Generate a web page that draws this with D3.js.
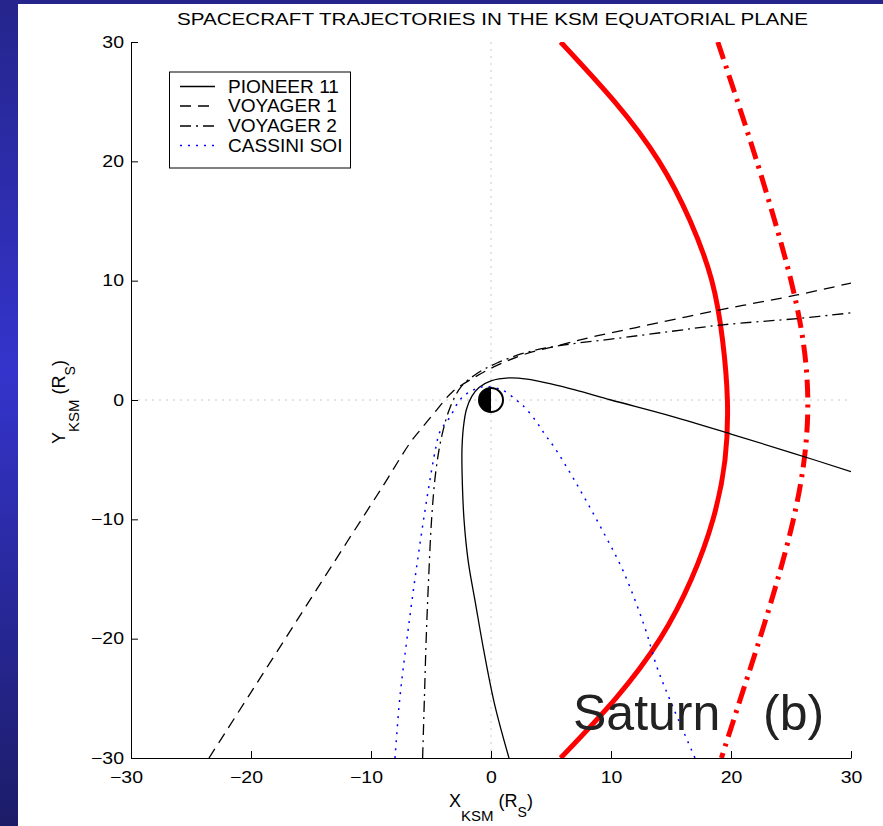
<!DOCTYPE html>
<html>
<head>
<meta charset="utf-8">
<script src="https://cdn.jsdelivr.net/npm/d3@7"></script>
<style>
  html, body { margin: 0; padding: 0; background: #fff; }
  svg { display: block; }
</style>
</head>
<body>
<svg id="chart" width="883" height="826"></svg>
<script>
// ticks
const xTicks = [-30, -20, -10, 0, 10, 20, 30]
const yTicks = [-30, -20, -10, 0, 10, 20, 30]

// spacecraft tracks, [X, Y] in R_S
const pioneer11 = [[30,-6.0],[25,-4.4],[20,-2.85],[15,-1.35],[10,0.0],[7,0.85],[5,1.35],[3,1.75],[1.5,1.85],[0,1.6],[-1,1.05],[-1.6,0.3],[-2.05,-0.8],[-2.3,-2.3],[-2.42,-4.2],[-2.4,-6.5],[-2.25,-10],[-1.9,-13.5],[-1.3,-17],[-0.6,-21],[0.3,-25.5],[1.5,-30]]
const voyager1 = [[-23.5,-30],[-20,-24.5],[-16,-18.2],[-12,-11.9],[-9,-7.2],[-6.75,-3.6],[-5.8,-2.4],[-4.5,-0.8],[-3.2,0.7],[-1.3,1.95],[0.5,2.9],[2.7,3.8],[5.75,4.6],[8.5,5.3],[12,6.05],[18.8,7.5],[25.5,8.8],[30,9.8]]
const voyager2 = [[-5.7,-30],[-5.55,-25],[-5.4,-20],[-5.2,-15],[-4.95,-10],[-4.6,-6],[-4.1,-3],[-3.4,-0.6],[-2.5,1.1],[-1.2,2.2],[0.5,3.1],[3,4.0],[6,4.6],[10,5.1],[15,5.75],[19.3,6.3],[25.8,6.85],[30,7.3]]
const cassiniSOI = [[-8,-30],[-7.6,-25],[-7.0,-20],[-6.2,-14],[-5.3,-8],[-4.6,-4],[-4.25,-2.65],[-3.4,-1.4],[-2.6,0],[-1.9,0.6],[-0.7,1.1],[0.9,0.85],[2.1,0],[2.7,-0.5],[3.7,-1.7],[4.5,-2.9],[5.3,-4.0],[7,-6.8],[9,-10.4],[11,-14.3],[12.8,-19],[13.8,-22.3],[14.9,-25.1],[17,-30]]

// boundaries
const magnetopause = [[5.8,30],[10.3,25],[14,20],[16.6,15],[18.4,10],[19.3,5],[19.7,0],[19.5,-5],[18.5,-10],[16.7,-15],[14.1,-20],[10.4,-25],[5.8,-30]]
const bowShock = [[18.9,30],[20.55,25],[22.15,20],[23.65,15],[25.0,10],[26.0,5],[26.4,0],[26.1,-5],[25.2,-10],[23.9,-15],[22.4,-20],[20.8,-25],[19.2,-30]]

const legendLabels = ["PIONEER 11", "VOYAGER 1", "VOYAGER 2", "CASSINI SOI"]
const saturnCenter = [0, 0]
const saturnRadius = 1

const svg = d3.select("#chart")
const W = 883, H = 826

// slide background: blue strip on the left and top
const defs = svg.append("defs")
const grad = defs.append("linearGradient").attr("id", "slide").attr("x1", 0).attr("y1", 0).attr("x2", 0).attr("y2", 1)
grad.append("stop").attr("offset", "0%").attr("stop-color", "#25258c")
grad.append("stop").attr("offset", "45%").attr("stop-color", "#3434cc")
grad.append("stop").attr("offset", "100%").attr("stop-color", "#1c1c68")
svg.append("rect").attr("width", W).attr("height", H).attr("fill", "url(#slide)")
svg.append("rect").attr("x", 18).attr("y", 4).attr("width", W - 18).attr("height", H - 4).attr("fill", "#fff")

const x = d3.scaleLinear().domain([-30, 30]).range([131, 851])
const y = d3.scaleLinear().domain([-30, 30]).range([758, 42])

defs.append("clipPath").attr("id", "plot")
  .append("rect").attr("x", 131).attr("y", 42).attr("width", 720).attr("height", 716)

const font = "'Liberation Sans', Arial, Helvetica, sans-serif"
// the figure was stretched sideways a bit
const stretch = (sel, k) => sel.each(function () {
  const w = this.getComputedTextLength()
  d3.select(this).attr("textLength", w * k).attr("lengthAdjust", "spacingAndGlyphs")
})

// zero lines
svg.append("line").attr("x1", x(0)).attr("x2", x(0)).attr("y1", y(30)).attr("y2", y(-30))
  .attr("stroke", "#c8c8c8").attr("stroke-dasharray", "2,5")
svg.append("line").attr("x1", x(-30)).attr("x2", x(30)).attr("y1", y(0)).attr("y2", y(0))
  .attr("stroke", "#c8c8c8").attr("stroke-dasharray", "2,5")

// axes, ticks inside
const xAxis = d3.axisBottom(x).tickValues(xTicks).tickSizeInner(-7).tickSizeOuter(0).tickPadding(13)
const yAxis = d3.axisLeft(y).tickValues(yTicks).tickSizeInner(-7).tickSizeOuter(0).tickPadding(7)

const gx = svg.append("g").attr("transform", `translate(0,${y(-30)})`).call(xAxis)
const gy = svg.append("g").attr("transform", `translate(${x(-30)},0)`).call(yAxis)
for (const g of [gx, gy]) {
  g.select(".domain").attr("stroke", "#000")
  g.selectAll(".tick line").attr("stroke", "#000")
  g.selectAll("text").attr("font-family", font).attr("font-size", 16.5).attr("fill", "#000")
  stretch(g.selectAll("text"), 1.18)
}
// negative labels: digits sit under the tick, minus hangs left
gx.selectAll(".tick text").attr("dx", d => d < 0 ? -5 : 0)

const line = d3.line().x(d => x(d[0])).y(d => y(d[1])).curve(d3.curveCatmullRom)
const smooth = d3.line().x(d => x(d[0])).y(d => y(d[1])).curve(d3.curveNatural)
const plot = svg.append("g").attr("clip-path", "url(#plot)")

plot.append("path").datum(magnetopause).attr("d", smooth)
  .attr("fill", "none").attr("stroke", "#ff0000").attr("stroke-width", 5)
plot.append("path").datum(bowShock).attr("d", smooth)
  .attr("fill", "none").attr("stroke", "#ff0000").attr("stroke-width", 5)
  .attr("stroke-dasharray", "18,7,3,7")

const styles = [
  {data: pioneer11, color: "#000", dash: null, w: 1.3},
  {data: voyager1, color: "#000", dash: "11,7", w: 1.3},
  {data: voyager2, color: "#000", dash: "11,5,2,5", w: 1.3},
  {data: cassiniSOI, color: "#0000ff", dash: "2,6", w: 1.5}
]
styles.forEach(s => {
  plot.append("path").datum(s.data).attr("d", line)
    .attr("fill", "none").attr("stroke", s.color).attr("stroke-width", s.w)
    .attr("stroke-dasharray", s.dash)
})

// Saturn, night side filled
const r = x(saturnRadius) - x(0)
const sat = svg.append("g").attr("transform", `translate(${x(saturnCenter[0])},${y(saturnCenter[1])})`)
sat.append("path").attr("d", d3.arc()({innerRadius: 0, outerRadius: r, startAngle: Math.PI, endAngle: 2 * Math.PI}))
  .attr("fill", "#000")
sat.append("circle").attr("r", r).attr("fill", "none").attr("stroke", "#000").attr("stroke-width", 2)

// legend
const legend = svg.append("g")
legend.append("rect").attr("x", 169.5).attr("y", 72).attr("width", 181).attr("height", 96)
  .attr("fill", "#fff").attr("stroke", "#000")
const rowY = [86.5, 106, 126, 145.5]
legendLabels.forEach((lab, i) => {
  legend.append("line").attr("x1", 180).attr("x2", 215).attr("y1", rowY[i]).attr("y2", rowY[i])
    .attr("stroke", styles[i].color).attr("stroke-width", styles[i].w).attr("stroke-dasharray", styles[i].dash)
  legend.append("text").attr("x", 228).attr("y", rowY[i]).attr("dy", "0.35em")
    .attr("font-family", font).attr("font-size", 18).text(lab)
})
stretch(legend.selectAll("text"), 1.06)

// title
svg.append("text").attr("x", 177).attr("y", 25).attr("font-family", font).attr("font-size", 16.5)
  .attr("textLength", 631).attr("lengthAdjust", "spacingAndGlyphs")
  .text("SPACECRAFT TRAJECTORIES IN THE KSM EQUATORIAL PLANE")

// axis titles
const xl = svg.append("text").attr("x", 491).attr("y", 807).attr("text-anchor", "middle")
  .attr("font-family", font).attr("font-size", 18)
xl.append("tspan").text("X")
xl.append("tspan").attr("font-size", 15).attr("dy", 14).text("KSM")
xl.append("tspan").attr("dy", -14).text(" (R")
xl.append("tspan").attr("font-size", 14).attr("dy", 10).text("S")
xl.append("tspan").attr("dy", -10).text(")")

const yl = svg.append("text").attr("transform", "translate(65,402) rotate(-90)").attr("text-anchor", "middle")
  .attr("font-family", font).attr("font-size", 18)
yl.append("tspan").text("Y")
yl.append("tspan").attr("font-size", 15).attr("dy", 14).text("KSM")
yl.append("tspan").attr("dy", -14).text(" (R")
yl.append("tspan").attr("font-size", 14).attr("dy", 10).text("S")
yl.append("tspan").attr("dy", -10).text(")")

// slide caption
svg.append("text").attr("x", 573).attr("y", 730).attr("font-family", font).attr("font-size", 50)
  .attr("fill", "#222").text("Saturn")
svg.append("text").attr("x", 763).attr("y", 730).attr("font-family", font).attr("font-size", 50)
  .attr("fill", "#222").text("(b)")
</script>
</body>
</html>
